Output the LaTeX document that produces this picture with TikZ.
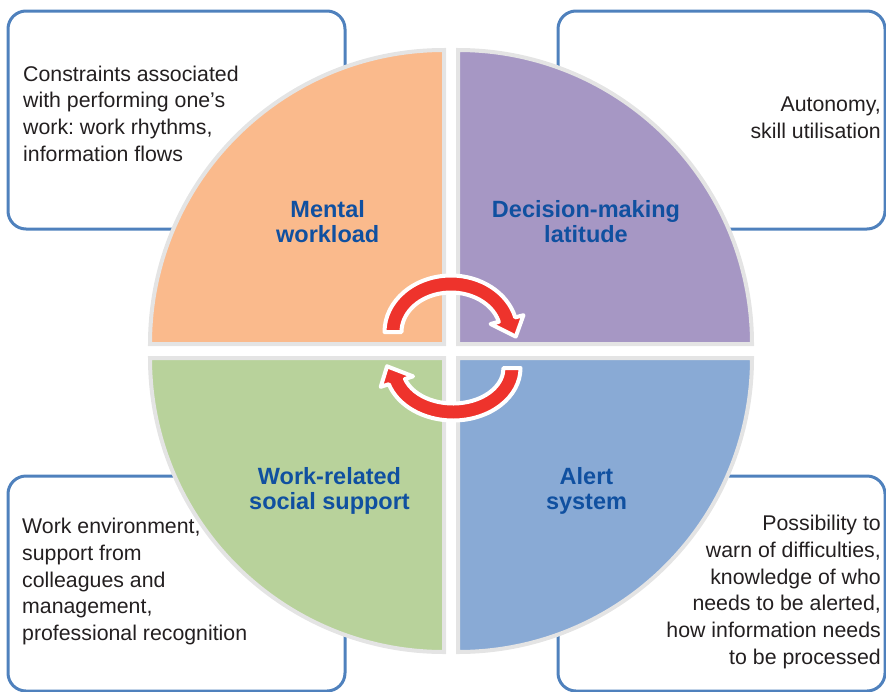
\documentclass[tikz,border=0pt]{standalone}
\usepackage{fontspec}
\setmainfont{Liberation Sans}
\usetikzlibrary{calc}
\frenchspacing

\definecolor{boxblue}{RGB}{79,129,189}
\definecolor{rimgrey}{RGB}{228,228,228}
\definecolor{workorange}{RGB}{250,186,140}
\definecolor{latpurple}{RGB}{166,151,196}
\definecolor{supgreen}{RGB}{184,210,155}
\definecolor{alertblue}{RGB}{137,170,213}
\definecolor{headblue}{RGB}{16,80,160}
\definecolor{arrowred}{RGB}{238,51,44}
\definecolor{notegrey}{RGB}{35,31,32}

\begin{document}
\begin{tikzpicture}[x=1pt, y=-1pt,
    boxframe/.style={draw=boxblue, line width=3pt, rounded corners=18pt},
    quarter/.style={draw=rimgrey, line width=4pt},
    notetext/.style={inner sep=0pt, text=notegrey, font=\fontsize{21.3}{26.8}\selectfont},
    headline/.style={inner sep=0pt, anchor=north, align=center, text=headblue, font=\bfseries\fontsize{23.5}{25.6}\selectfont},
    cyclearrow/.style={fill=arrowred, draw=white, line width=4pt, line join=round}]
        \useasboundingbox (0,0) rectangle (886,691);
        % --- Draw the four frames ---
        \draw[boxframe] (8,11) rectangle (345,229);
        \draw[boxframe] (558,11) rectangle (885,229);
        \draw[boxframe] (8,476) rectangle (345,691);
        \draw[boxframe] (558,476) rectangle (885,691);
        % --- Draw the quarters of the disc ---
        \filldraw[quarter, fill=workorange] (444,344) -- (150,344) arc[start angle=180, end angle=270, radius=294] -- cycle;
        \filldraw[quarter, fill=latpurple] (458,344) -- (458,50) arc[start angle=270, end angle=360, radius=294] -- cycle;
        \filldraw[quarter, fill=supgreen] (444,358) -- (444,652) arc[start angle=90, end angle=180, radius=294] -- cycle;
        \filldraw[quarter, fill=alertblue] (458,358) -- (752,358) arc[start angle=0, end angle=90, radius=294] -- cycle;
        % --- Draw the two turning arrows ---
        \coordinate (topc) at (451,332);
        \coordinate (botc) at (453,368);
        \filldraw[cyclearrow] ($(topc)+(180:66.5 and 56.5)$) arc[start angle=180, end angle=345, x radius=66.5, y radius=56.5]
            -- ($(topc)+(345:75 and 65)$) -- ($(topc)+(5:65 and 53)$) -- ($(topc)+(345:41 and 31)$)
            -- ($(topc)+(345:49.5 and 39.5)$) arc[start angle=345, end angle=180, x radius=49.5, y radius=39.5] -- cycle;
        \filldraw[cyclearrow] ($(botc)+(0:67.5 and 52.5)$) arc[start angle=0, end angle=162, x radius=67.5, y radius=52.5]
            -- ($(botc)+(162:76 and 61)$) -- ($(botc)+(182:66 and 49)$) -- ($(botc)+(162:42 and 27)$)
            -- ($(botc)+(162:50.5 and 35.5)$) arc[start angle=162, end angle=0, x radius=50.5, y radius=35.5] -- cycle;
        % --- Headlines ---
        \node[headline] (workload) at (327.7,199.9) {Mental\\workload};
        \node[headline] (latitude) at (586,199.9) {Decision-making\\latitude};
        \node[headline] (support) at (329.5,466.9) {Work-related\\social support};
        \node[headline] (alert) at (586.5,466.9) {Alert\\system};
        % --- Notes in the frames ---
        \node[notetext, anchor=north west, align=left] (workload-note) at (23,65.5) {Constraints associated\\with performing one’s\\work: work rhythms,\\information flows};
        \node[notetext, anchor=north east, align=right] (latitude-note) at (881,96.5) {Autonomy,\\skill utilisation};
        \node[notetext, anchor=north west, align=left] (support-note) at (22,517.8) {Work environment,\\support from\\colleagues and\\management,\\professional recognition};
        \node[notetext, anchor=north east, align=right] (alert-note) at (881,514.8) {Possibility to\\warn of difficulties,\\knowledge of who\\needs to be alerted,\\how information needs\\to be processed};
        % ---
\end{tikzpicture}
\end{document}
